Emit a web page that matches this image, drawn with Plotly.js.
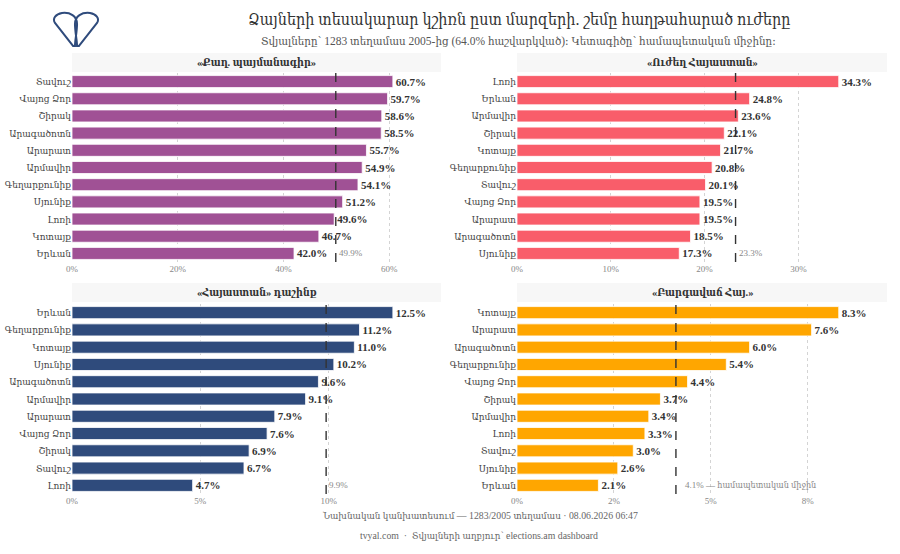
<!DOCTYPE html>
<html>
<head>
<meta charset="utf-8">
<script src="https://cdn.plot.ly/plotly-3.0.1.min.js"></script>
<style>html,body{margin:0;padding:0;background:#fff;}#chart{width:900px;height:554px;}</style>
</head>
<body>
<div id="chart"></div>
<script>
// ---- Data ----
const panelTitles = ["«Քաղ. պայմանագիր»", "«Ուժեղ Հայաստան»", "«Հայաստան» դաշինք", "«Բարգավաճ Հայ.»"];

const regionsA = ["Տավուշ","Վայոց Ձոր","Շիրակ","Արագածոտն","Արարատ","Արմավիր","Գեղարքունիք","Սյունիք","Լոռի","Կոտայք","Երևան"];
const valuesA  = [60.7, 59.7, 58.6, 58.5, 55.7, 54.9, 54.1, 51.2, 49.6, 46.7, 42.0];
const meanA = 49.9;

const regionsB = ["Լոռի","Երևան","Արմավիր","Շիրակ","Կոտայք","Գեղարքունիք","Տավուշ","Վայոց Ձոր","Արարատ","Արագածոտն","Սյունիք"];
const valuesB  = [34.3, 24.8, 23.6, 22.1, 21.7, 20.8, 20.1, 19.5, 19.5, 18.5, 17.3];
const meanB = 23.3;

const regionsC = ["Երևան","Գեղարքունիք","Կոտայք","Սյունիք","Արագածոտն","Արմավիր","Արարատ","Վայոց Ձոր","Շիրակ","Տավուշ","Լոռի"];
const valuesC  = [12.5, 11.2, 11.0, 10.2, 9.6, 9.1, 7.9, 7.6, 6.9, 6.7, 4.7];
const meanC = 9.9;

const regionsD = ["Կոտայք","Արարատ","Արագածոտն","Գեղարքունիք","Վայոց Ձոր","Շիրակ","Արմավիր","Լոռի","Տավուշ","Սյունիք","Երևան"];
const valuesD  = [8.3, 7.6, 6.0, 5.4, 4.4, 3.7, 3.4, 3.3, 3.0, 2.6, 2.1];
const meanD = 4.1;

const tickValsA = [0, 20, 40, 60];   const tickTextA = ["0%","20%","40%","60%"];
const tickValsB = [0, 10, 20, 30];   const tickTextB = ["0%","10%","20%","30%"];
const tickValsC = [0, 5, 10];        const tickTextC = ["0%","5%","10%"];
const tickValsD = [0, 2.5, 5, 7.5];  const tickTextD = ["0%","2%","5%","8%"];

const colors = ["#a05195", "#f95d6a", "#2f4b7c", "#ffa600"];
const meanLabels = [meanA + "%", meanB + "%", meanC + "%", meanD + "% — համապետական միջին"];

const titleText = "Ձայների տեսակարար կշիռն ըստ մարզերի. շեմը հաղթահարած ուժերը";
const subtitleText = "Տվյալները՝ 1283 տեղամաս 2005-ից (64.0% հաշվարկված)։ Կետագիծը՝ համապետական միջինը։";
const footer1 = "Նախնական կանխատեսում — 1283/2005 տեղամաս · 08.06.2026 06:47";
const footer2 = "tvyal.com  ·  Տվյալների աղբյուր՝ elections.am dashboard";

// ---- Layout helpers ----
const W = 900, H = 554;
const SERIF = "Liberation Serif, DejaVu Serif Condensed, DejaVu Sans Condensed, DejaVu Serif, serif";
const px = v => v / W;
const py = v => 1 - v / H;

const panels = [
  {reg: regionsA, val: valuesA, mean: meanA, tv: tickValsA, tt: tickTextA, x0: 72, x1: 441, y0: 73, y1: 262, band: [53, 72]},
  {reg: regionsB, val: valuesB, mean: meanB, tv: tickValsB, tt: tickTextB, x0: 517, x1: 887, y0: 73, y1: 262, band: [53, 72]},
  {reg: regionsC, val: valuesC, mean: meanC, tv: tickValsC, tt: tickTextC, x0: 72, x1: 441, y0: 304, y1: 494, band: [283, 302]},
  {reg: regionsD, val: valuesD, mean: meanD, tv: tickValsD, tt: tickTextD, x0: 517, x1: 887, y0: 304, y1: 494, band: [283, 302]}
];

const traces = [];
const layout = {
  width: W, height: H,
  margin: {l: 0, r: 0, t: 0, b: 0},
  paper_bgcolor: "#ffffff",
  plot_bgcolor: "#ffffff",
  showlegend: false,
  bargap: 0.3,
  font: {family: SERIF, color: "#444"},
  shapes: [],
  annotations: []
};

panels.forEach((p, i) => {
  const n = i === 0 ? "" : String(i + 1);
  traces.push({
    type: "bar", orientation: "h",
    x: p.val, y: p.reg,
    xaxis: "x" + n, yaxis: "y" + n,
    marker: {color: colors[i], line: {color: "#ffffff", width: 0.8}},
    text: p.val.map(v => v.toFixed(1) + "%"),
    textposition: "outside",
    cliponaxis: false,
    textfont: {family: SERIF, size: 11, color: "#333", weight: "bold"},
    hoverinfo: "x+y"
  });
  const maxV = Math.max(...p.val);
  layout["xaxis" + n] = {
    domain: [px(p.x0), px(p.x1)],
    anchor: "y" + n,
    range: [0, maxV * 1.15],
    tickmode: "array", tickvals: p.tv, ticktext: p.tt,
    showgrid: true, gridcolor: "#d4d4d4", griddash: "dot", gridwidth: 1,
    zeroline: false, showline: false, ticks: "",
    tickfont: {family: SERIF, size: 9, color: "#888"},
    fixedrange: true
  };
  layout["yaxis" + n] = {
    domain: [py(p.y1), py(p.y0)],
    anchor: "x" + n,
    type: "category",
    autorange: "reversed",
    showgrid: false, zeroline: false, showline: false, ticks: "",
    tickfont: {family: SERIF, size: 10, color: "#444"},
    ticklabelstandoff: 0,
    fixedrange: true
  };
  // title band
  layout.shapes.push({
    type: "rect", xref: "paper", yref: "paper",
    x0: px(p.x0), x1: px(p.x1), y0: py(p.band[1]), y1: py(p.band[0]),
    fillcolor: "#f7f7f7", line: {width: 0}, layer: "below"
  });
  layout.annotations.push({
    xref: "paper", yref: "paper",
    x: px((p.x0 + p.x1) / 2), y: py((p.band[0] + p.band[1]) / 2),
    text: "<b>" + panelTitles[i] + "</b>", showarrow: false,
    xanchor: "center", yanchor: "middle",
    font: {family: SERIF, size: 10.5, color: "#333"}
  });
  // mean line
  layout.shapes.push({
    type: "line", xref: "x" + n, yref: "y" + n + " domain",
    x0: p.mean, x1: p.mean, y0: 0, y1: 1,
    line: {color: "#333", width: 1.4, dash: "dash"}, layer: "above"
  });
  layout.annotations.push({
    xref: "x" + n, yref: "y" + n,
    x: p.mean, y: p.reg[p.reg.length - 1],
    text: meanLabels[i], showarrow: false,
    xanchor: "left", yanchor: "middle", xshift: i === 3 ? 7 : 1,
    font: {family: SERIF, size: 9, color: "#888"}
  });
});

// titles and footers
layout.annotations.push(
  {xref: "paper", yref: "paper", x: px(519), y: py(20), text: titleText, showarrow: false,
   xanchor: "center", yanchor: "middle", font: {family: SERIF, size: 16, color: "#333"}},
  {xref: "paper", yref: "paper", x: px(518), y: py(42), text: subtitleText, showarrow: false,
   xanchor: "center", yanchor: "middle", font: {family: SERIF, size: 11.5, color: "#555"}},
  {xref: "paper", yref: "paper", x: px(480), y: py(515), text: footer1, showarrow: false,
   xanchor: "center", yanchor: "middle", font: {family: SERIF, size: 9.8, color: "#666"}},
  {xref: "paper", yref: "paper", x: px(479), y: py(535), text: footer2, showarrow: false,
   xanchor: "center", yanchor: "middle", font: {family: SERIF, size: 9.8, color: "#666"}}
);

// logo (two petals)
function P(x, y) { return px(x).toFixed(4) + "," + py(y).toFixed(4); }
const logoL = "M" + P(73, 46) + " L" + P(55, 23) + " C" + P(52, 18) + " " + P(56, 14) + " " + P(62, 13) +
              " C" + P(70, 12) + " " + P(77, 16) + " " + P(77, 24) + " C" + P(77, 32) + " " + P(75, 40) + " " + P(75, 46) + " Z";
const logoR = "M" + P(79, 46) + " L" + P(97, 23) + " C" + P(100, 18) + " " + P(96, 14) + " " + P(90, 13) +
              " C" + P(82, 12) + " " + P(75, 16) + " " + P(75, 24) + " C" + P(75, 32) + " " + P(77, 40) + " " + P(77, 46) + " Z";
layout.shapes.push(
  {type: "path", xref: "paper", yref: "paper", path: logoL, line: {color: "#2f4b7c", width: 2}, fillcolor: "rgba(0,0,0,0)"},
  {type: "path", xref: "paper", yref: "paper", path: logoR, line: {color: "#2f4b7c", width: 2}, fillcolor: "rgba(0,0,0,0)"}
);

Plotly.newPlot("chart", traces, layout, {displayModeBar: false, staticPlot: true});
</script>
</body>
</html>
